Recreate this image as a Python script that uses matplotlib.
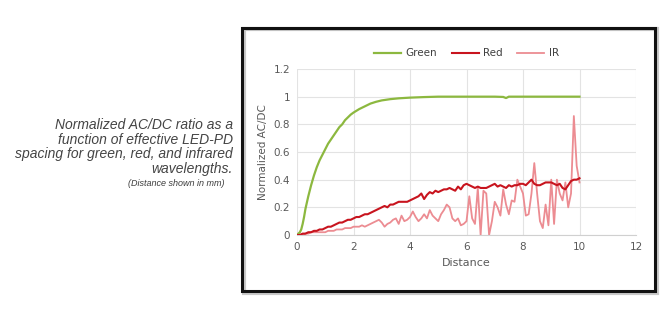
import numpy as np
import matplotlib.pyplot as plt
from matplotlib.patches import Rectangle

# ---- data ----
green_x = [0, 0.1, 0.15, 0.2, 0.25, 0.3, 0.4, 0.5, 0.6, 0.7, 0.8, 0.9, 1.0, 1.1, 1.2, 1.3,
           1.4, 1.5, 1.6, 1.7, 1.8, 1.9, 2.0, 2.2, 2.4, 2.6, 2.8, 3.0, 3.3, 3.6, 4.0,
           4.5, 5.0, 6.0, 7.0, 7.3, 7.4, 7.5, 8.0, 9.0, 10.0]
green_y = [0, 0.02, 0.04, 0.08, 0.13, 0.19, 0.28, 0.36, 0.43, 0.49, 0.54, 0.58, 0.62, 0.66,
           0.69, 0.72, 0.75, 0.78, 0.80, 0.83, 0.85, 0.87, 0.885, 0.91, 0.93, 0.95, 0.963,
           0.973, 0.982, 0.988, 0.993, 0.997, 1.0, 1.0, 1.0, 0.998, 0.99, 1.0, 1.0, 1.0, 1.0]

dist = [round(0.1 * i, 1) for i in range(101)]

red = [0.00, 0.00, 0.01, 0.01, 0.02, 0.02, 0.03, 0.03, 0.04, 0.04,
       0.05, 0.06, 0.06, 0.07, 0.08, 0.09, 0.09, 0.10, 0.11, 0.11,
       0.12, 0.13, 0.13, 0.14, 0.15, 0.15, 0.16, 0.17, 0.18, 0.19,
       0.20, 0.21, 0.20, 0.22, 0.22, 0.23, 0.24, 0.24, 0.24, 0.24,
       0.25, 0.26, 0.27, 0.28, 0.30, 0.26, 0.29, 0.31, 0.30, 0.32,
       0.31, 0.32, 0.33, 0.33, 0.34, 0.33, 0.32, 0.35, 0.33, 0.36,
       0.37, 0.36, 0.35, 0.34, 0.35, 0.34, 0.34, 0.34, 0.35, 0.36,
       0.37, 0.35, 0.36, 0.35, 0.34, 0.36, 0.35, 0.36, 0.36, 0.37,
       0.37, 0.36, 0.38, 0.40, 0.37, 0.36, 0.36, 0.37, 0.38, 0.38,
       0.38, 0.37, 0.36, 0.37, 0.34, 0.33, 0.36, 0.39, 0.40, 0.40,
       0.41]

ir = [0.00, 0.00, 0.00, 0.01, 0.01, 0.02, 0.02, 0.02, 0.02, 0.02,
      0.02, 0.03, 0.03, 0.03, 0.04, 0.04, 0.04, 0.05, 0.05, 0.05,
      0.06, 0.06, 0.06, 0.07, 0.06, 0.07, 0.08, 0.09, 0.10, 0.11,
      0.09, 0.06, 0.08, 0.09, 0.11, 0.12, 0.08, 0.14, 0.10, 0.11,
      0.13, 0.17, 0.13, 0.10, 0.12, 0.15, 0.12, 0.18, 0.14, 0.12,
      0.10, 0.15, 0.18, 0.22, 0.20, 0.12, 0.10, 0.12, 0.07, 0.08,
      0.10, 0.28, 0.12, 0.08, 0.34, 0.00, 0.32, 0.30, 0.00, 0.10,
      0.24, 0.20, 0.14, 0.33, 0.22, 0.15, 0.25, 0.24, 0.40, 0.35,
      0.30, 0.14, 0.15, 0.30, 0.52, 0.30, 0.10, 0.05, 0.22, 0.07,
      0.40, 0.08, 0.40, 0.30, 0.25, 0.38, 0.20, 0.30, 0.86, 0.50,
      0.38]

c_green = '#8cb83f'
c_red = '#c8141e'
c_ir = '#ec8c92'
c_text = '#595959'

fig = plt.figure(figsize=(6.69, 3.22), dpi=100)

# framed chart box
fig.patches.append(Rectangle((244 / 669, 1 - 293 / 322), 413 / 669, 264 / 322,
                             transform=fig.transFigure, fill=False,
                             edgecolor='#c8c8c8', linewidth=3.0, zorder=0))
fig.patches.append(Rectangle((242 / 669, 1 - 291 / 322), 413 / 669, 263 / 322,
                             transform=fig.transFigure, fill=False,
                             edgecolor='#111111', linewidth=2.2, zorder=1))

ax = fig.add_axes([297 / 669, 1 - 235 / 322, 339 / 669, 166 / 322])
ax.plot(green_x, green_y, color=c_green, lw=1.6, label='Green', zorder=3)
ax.plot(dist, red, color=c_red, lw=1.5, label='Red', zorder=4)
ax.plot(dist, ir, color=c_ir, lw=1.3, label='IR', zorder=3)

ax.set_xlim(0, 12)
ax.set_ylim(0, 1.2)
ax.set_xticks([0, 2, 4, 6, 8, 10, 12])
ax.set_yticks([0, 0.2, 0.4, 0.6, 0.8, 1, 1.2])
ax.set_yticklabels(['0', '0.2', '0.4', '0.6', '0.8', '1', '1.2'])
ax.grid(True, color='#e3e3e3', lw=0.8)
ax.set_axisbelow(True)
for s in ['top', 'right', 'left']:
    ax.spines[s].set_visible(False)
ax.spines['bottom'].set_color('#d0d0d0')
ax.tick_params(length=0, labelsize=7.5, colors=c_text, pad=5)
ax.set_xlabel('Distance', fontsize=8, color=c_text, labelpad=4)
ax.set_ylabel('Normalized AC/DC', fontsize=7.5, color=c_text, labelpad=4)

ax.legend(loc='lower center', bbox_to_anchor=(0.5, 1.04), ncol=3, frameon=False,
          fontsize=7.5, labelcolor='#404040', handlelength=2.6, columnspacing=1.4,
          handletextpad=0.4, borderaxespad=0)

# caption on the left
cap = ['Normalized AC/DC ratio as a',
       'function of effective LED-PD',
       'spacing for green, red, and infrared',
       'wavelengths.']
ys = [125, 140, 154, 169]
for line, y in zip(cap, ys):
    fig.text(233 / 669, 1 - y / 322, line, ha='right', va='center', fontsize=10,
             style='italic', family='Liberation Sans', color='#444444')
fig.text(224 / 669, 1 - 183 / 322, '(Distance shown in mm)', ha='right', va='center',
         fontsize=6.5, style='italic', family='Liberation Sans', color='#3c3c3c')

fig.savefig('out.png', dpi=100)
